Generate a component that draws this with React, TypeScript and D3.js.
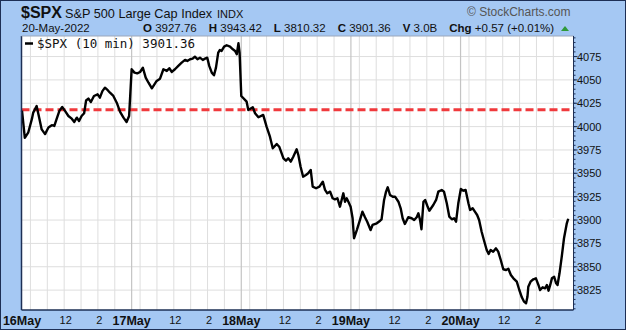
import React from "react";
import * as d3 from "d3";

const barPos = [0,1,2.2,3.5,4,5.2,6,7,8.2,9.4,10.6,11.5,12.3,13.3,14.3,15.3,16.5,17.7,18.6,19.5,20.3,21.2,22.1,22.8,23.6,24.5,25.6,26.9,27.7,28.6,29.5,30.5,31.3,32.5,33.7,34.9,36.1,37.2,38.1,
39,40,41,42,43,44,45,46.2,47.9,49.1,50.3,51.5,52.4,53.3,54.4,55.6,56.8,58,58.8,59.8,60.7,61.5,62.4,63.3,64.3,65.1,65.9,66.6,67.5,68.3,69,69.8,70.4,71,71.9,72.8,74,75,75.8,76.4,77,77.4,
78,79.9,80.5,82.1,82.9,84.1,85.8,87,88.2,89.2,90.6,91.5,93,93.9,94.7,95.6,96.5,97.7,98.3,99.1,100,101,101.8,102.7,103.4,104.6,105.8,107,107.8,108.6,109.6,110.5,111.3,112.2,113.1,113.7,114.3,114.9,115.5,116.1,116.9,
117.6,118.1,119.1,120.2,121.1,122,122.8,124,124.7,126.2,127.4,127.9,128.8,129.5,130.1,130.9,131.9,132.7,133.9,134.7,135.4,136.2,137.4,138.6,139.5,140.4,141,141.6,142.1,142.8,143.4,144.2,144.9,146.3,147.3,148.1,149.3,150.1,151.1,152,152.9,153.7,154.4,155.2,
156.1,157,157.8,158.8,159.4,160.3,161.1,161.9,162.6,163.5,164.3,165.3,166,166.7,167.6,168.6,169.4,170.3,171.2,172.2,173,173.9,174.8,176,176.9,177.8,178.6,179.3,179.8,180.1,180.9,181.9,182.8,183.7,184.3,185.2,186.1,186.7,187.3,187.9,188.5,189.3,190,190.5,191.2,192,192.8,193.8,194.3];

const closes = [4017,3988,3993.5,4008,4015,4022,4011,3997,3992,3999,4001.5,4000.7,4008,4016.8,4021,4016.8,4011.4,4008.5,4005,4009.6,4006,4011.4,4014.3,4028,4030,4026.4,4032.8,4034.6,4031,4038,4041.7,4039,4036.3,4032.8,4025.6,4015.7,4009.6,4005,4011.4,
4061.4,4057.8,4057,4058.5,4063,4052.4,4047,4041,4048.9,4051.3,4061.4,4059.6,4062.5,4058.5,4061.4,4065,4068.5,4071.4,4070.3,4072.1,4072.8,4074.9,4072.1,4073.8,4071.4,4072.8,4073.8,4065,4057.8,4055,4063.1,4079.2,4082,4081,4085.6,4087.1,4085.6,4082.8,4081,4077.5,4089.2,4079.2,
4032.8,4026.7,4017.8,4020.7,4014.3,4010,4012.5,4000,3989.2,3976.8,3981.4,3978.5,3966.1,3963.5,3966.1,3962.5,3967.8,3975.7,3969.6,3957.1,3946.4,3948.2,3950,3953.6,3935.7,3934,3935.7,3941.1,3932.2,3928.6,3930.4,3923.3,3922.2,3923.3,3914.3,3921.5,3928.6,3919.6,3923.3,3919.6,3914.3,
3901.9,3880.5,3889.3,3900,3909,3903,3898.2,3889.3,3894.7,3896.5,3899.3,3900.8,3921.5,3930.4,3935.1,3926.8,3925,3925,3919.6,3912.6,3901.9,3895.8,3903,3901.9,3900,3903,3907.2,3900,3890.1,3919.6,3921.5,3915,3910,3916.1,3921.5,3930.4,3932.2,3930.4,3917.9,3903.6,3900.8,3901.9,3898.2,3917.9,
3933.2,3931.4,3932.2,3917.9,3910.8,3912.6,3909,3905.4,3900,3887.5,3878.6,3867.9,3863.6,3867.9,3866.1,3869.7,3866.1,3857.2,3847.3,3846.5,3847.9,3841.2,3837.6,3834,3825.1,3817.3,3812.6,3810.9,3817.9,3828.6,3834,3836.6,3837.6,3830.5,3825.1,3828,3826.9,3830.5,3824.4,3830.5,3837.6,3839.3,3832.3,3830.5,3843,3860.8,3880.5,3896.5,3901.4];

const dayLabels = ["16May", "17May", "18May", "19May", "20May"];
const intradayTicks = [{ bar: 15, label: "12" }, { bar: 27, label: "2" }];
const yTicks = [3825, 3850, 3875, 3900, 3925, 3950, 3975, 4000, 4025, 4050, 4075];
const refLevel = 4018;
const lastClose = 3901.36;
const barsPerDay = 39;
const quoteKeys = ["O", "H", "L", "C", "V", "Chg"];
const quoteVals = ["3927.76", "3943.42", "3810.32", "3901.36", "3.0B", "+0.57 (+0.01%)"];

const W = 627, H = 334;
const L = 21.5, R = 573.5, T = 36, B = 310;
const BLUE = "#a5c8f3";
const NAVY = "#1d2f55";

export default function App() {
  const x = d3.scaleLinear().domain([0, 196]).range([22, 573]);
  const y = d3.scaleLinear().domain([3803.7, 4097]).range([B, T]);
  const line = d3.line<number>().x((_, i) => x(barPos[i])).y((d) => y(d)).curve(d3.curveLinear);

  const hourGrid: number[] = [];
  for (let d = 0; d < 5; d++) for (let h = 3; h < barsPerDay; h += 6) hourGrid.push(d * barsPerDay + h);
  const minor: number[] = d3.range(3805, 4097, 5);

  const font = "'Liberation Sans', Arial, sans-serif";
  return (
    <svg width={W} height={H} style={{ position: "fixed", left: 0, top: 0 }} fontFamily={font}>
      <rect x={0} y={0} width={W} height={H} fill="#fff" />
      <rect x={0.5} y={0.5} width={625} height={329} fill={BLUE} stroke={NAVY} />
      <rect x={L} y={T} width={R - L} height={B - T} fill="#fff" />
      {yTicks.map((v) => (
        <line key={"h" + v} x1={L} x2={R} y1={y(v)} y2={y(v)} stroke="#dedede" strokeWidth={1} />
      ))}
      {hourGrid.map((b) => (
        <line key={"v" + b} x1={x(b)} x2={x(b)} y1={T} y2={B} stroke="#dedede" strokeWidth={1} />
      ))}
      {dayLabels.map((_, i) => i > 0 && (
        <line key={"d" + i} x1={x(i * barsPerDay)} x2={x(i * barsPerDay)} y1={T} y2={B} stroke="#c4c4c4" strokeWidth={1.2} />
      ))}
      <line x1={x(150)} x2={R} y1={y(lastClose)} y2={y(lastClose)} stroke="#fff" strokeWidth={1.5} strokeDasharray="6,3" />
      <line x1={L} x2={R} y1={y(refLevel)} y2={y(refLevel)} stroke="#f0393c" strokeWidth={3} strokeDasharray="8,4" />
      <path d={line(closes) || ""} fill="none" stroke="#000" strokeWidth={2.4} strokeLinejoin="round" />
      <line x1={L} x2={L} y1={T} y2={B} stroke={NAVY} strokeWidth={1.5} />
      <line x1={L} x2={R} y1={B} y2={B} stroke={NAVY} strokeWidth={1.5} />
      <line x1={L} x2={R} y1={T} y2={T} stroke="#9aa7bb" strokeWidth={1} />
      <line x1={R} x2={R} y1={T} y2={B} stroke={NAVY} strokeWidth={1} />
      {minor.map((v) => (
        <line key={"m" + v} x1={R} x2={R + 2} y1={y(v)} y2={y(v)} stroke={NAVY} strokeWidth={1} />
      ))}
      {yTicks.map((v) => (
        <g key={"t" + v}>
          <line x1={R} x2={R + 4} y1={y(v)} y2={y(v)} stroke={NAVY} />
          <text x={R + 3.5} y={y(v) + 4} fontSize={11} fill="#111">{v}</text>
        </g>
      ))}
      {dayLabels.map((lab, i) => (
        <text key={lab} x={x(i * barsPerDay)} y={325} fontSize={12.5} fontWeight="bold" textAnchor="middle" fill="#111">{lab}</text>
      ))}
      {dayLabels.map((_, i) =>
        intradayTicks.map((t) => (
          <text key={i + t.label} x={x(i * barsPerDay + t.bar) + 1.5} y={324} fontSize={11} textAnchor="middle" fill="#111">{t.label}</text>
        ))
      )}
      <text x={21} y={18} fontSize={16} fontWeight="bold" fill="#111">$SPX</text>
      <text x={65} y={18} fontSize={12.7} fill="#111">S&amp;P 500 Large Cap Index</text>
      <text x={217} y={18} fontSize={11} fill="#111">INDX</text>
      <text x={467} y={16} fontSize={12} fill="#555">© StockCharts.com</text>
      <text x={22} y={31.5} fontSize={11.5} fill="#111">20-May-2022</text>
      <text x={143} y={31.5} fontSize={11.5} fill="#111">
        {quoteKeys.map((k, i) => (
          <React.Fragment key={k}>
            <tspan dx={i === 0 ? 0 : 12} fontWeight="bold">{k}</tspan>
            <tspan> {quoteVals[i]}</tspan>
          </React.Fragment>
        ))}
      </text>
      <path d="M561,31 L565,26 L569,31 Z" fill="#2f9a3a" />
      <line x1={25} x2={33} y1={43.5} y2={43.5} stroke="#000" strokeWidth={2.5} />
      <text x={37} y={47.5} fontSize={12.5} fontFamily="'DejaVu Sans Mono', monospace" fill="#111">$SPX (10 min) 3901.36</text>
    </svg>
  );
}
